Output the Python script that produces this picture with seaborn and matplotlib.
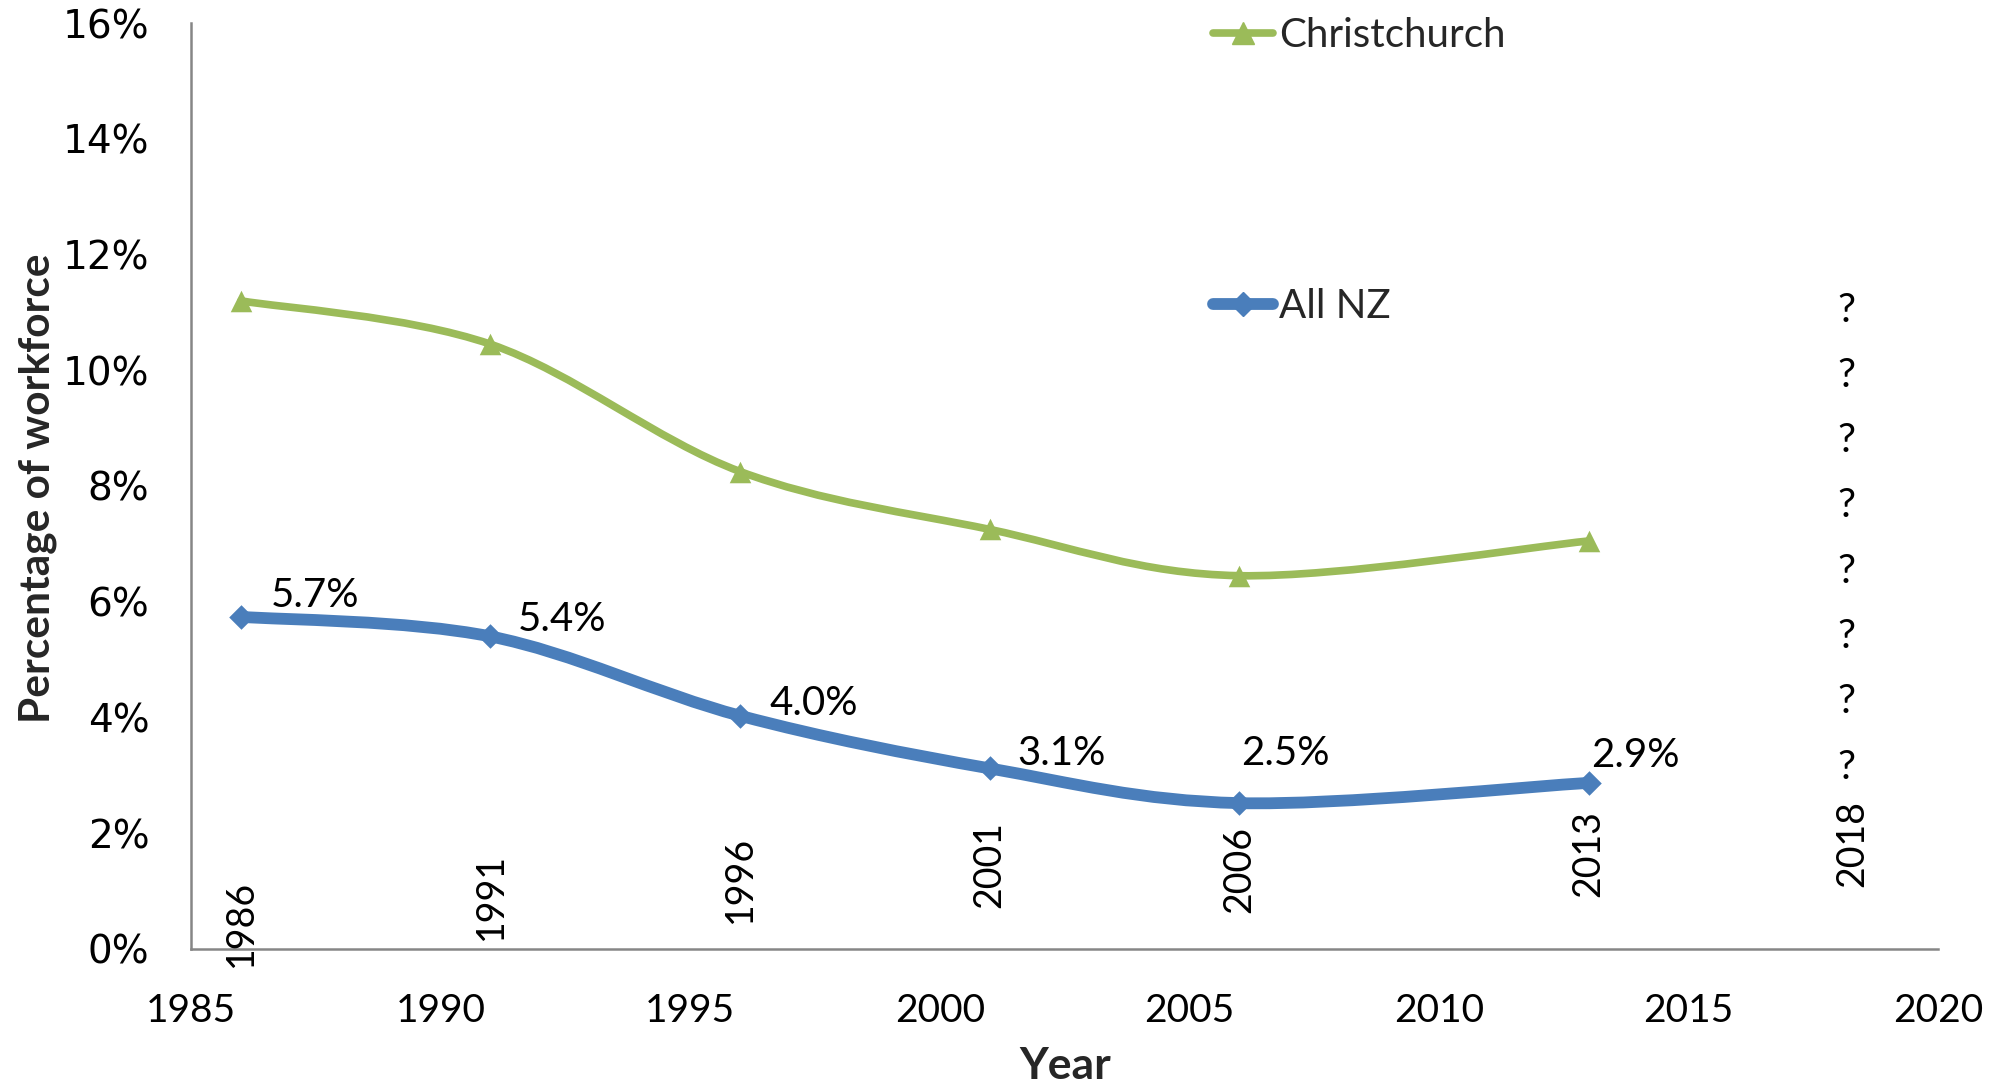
import numpy as np
import pandas as pd
import matplotlib
matplotlib.use('Agg')
import matplotlib.pyplot as plt
import seaborn as sns
from matplotlib.path import Path
from matplotlib.patches import PathPatch
from matplotlib.lines import Line2D
import matplotlib.ticker as ticker

# Data (percentage of workforce)
years = [1986, 1991, 1996, 2001, 2006, 2013]
christchurch = [11.2, 10.45, 8.25, 7.25, 6.45, 7.05]
all_nz = [5.74, 5.40, 4.03, 3.12, 2.52, 2.87]
all_nz_labels = ['5.7%', '5.4%', '4.0%', '3.1%', '2.5%', '2.9%']

# Census year labels (hidden series values)
census_years = ['1986', '1991', '1996', '2001', '2006', '2013', '2018']
census_x = [1986, 1991, 1996, 2001, 2006, 2013, 2018]
census_label_y = [-0.31, 0.16, 0.45, 0.71, 0.62, 0.90, 1.07]
unknown_marks = ['?'] * 8

GREEN = '#9bbb59'
BLUE = '#4a7ebb'
AXIS = '#868686'

sns.set_style('white')
plt.rcParams['font.family'] = ['Lato', 'DejaVu Sans']


def smooth_path(x, y):
    # bezier curve through the points (like Excel's smoothed line)
    pts = np.column_stack([x, y]).astype(float)
    n = len(pts)
    verts = [pts[0]]
    codes = [Path.MOVETO]
    for i in range(n - 1):
        p0 = pts[max(i - 1, 0)]
        p1 = pts[i]
        p2 = pts[i + 1]
        p3 = pts[min(i + 2, n - 1)]
        verts += [p1 + (p2 - p0) / 6, p2 - (p3 - p1) / 6, p2]
        codes += [Path.CURVE4] * 3
    return Path(verts, codes)


df = pd.DataFrame({'year': years, 'Christchurch': christchurch, 'All NZ': all_nz})

fig, ax = plt.subplots(figsize=(20, 10.91), dpi=100)
fig.subplots_adjust(left=0.0955, right=0.969, bottom=0.1302, top=0.9789)

# Lines
ax.add_patch(PathPatch(smooth_path(df['year'], df['Christchurch']), fill=False,
                       edgecolor=GREEN, lw=5.5, capstyle='round', zorder=2))
ax.add_patch(PathPatch(smooth_path(df['year'], df['All NZ']), fill=False,
                       edgecolor=BLUE, lw=8.5, capstyle='round', zorder=2))

# Markers
sns.scatterplot(x='year', y='Christchurch', data=df, ax=ax, marker='^', s=15.5 ** 2,
                color=GREEN, edgecolor=GREEN, linewidth=0, zorder=3)
sns.scatterplot(x='year', y='All NZ', data=df, ax=ax, marker='D', s=12.5 ** 2,
                color=BLUE, edgecolor=BLUE, linewidth=0, zorder=3)

# Data labels for All NZ
label_offsets = [(30, 10), (27, 5), (29, 1), (28, 3), (2, 38), (3, 16)]
for x, y, lab, off in zip(years, all_nz, all_nz_labels, label_offsets):
    ax.annotate(lab, (x, y), xytext=off, textcoords='offset pixels',
                ha='left', va='baseline', fontsize=29, color='black')

# Rotated census year labels
census_dx = [0, 0, 0, 0, 0, 0, 14]
for x, y, lab, dx in zip(census_x, census_label_y, census_years, census_dx):
    ax.annotate(lab, (x, y), xytext=(dx, 0), textcoords='offset pixels',
                rotation=90, ha='center', va='bottom', fontsize=27,
                color='black', annotation_clip=False)

# Question marks for 2018
ax.annotate('\n'.join(unknown_marks), (2018, 11.36), xytext=(8, 0),
            textcoords='offset pixels', ha='center', va='top',
            fontsize=29, linespacing=1.943, color='black')

# Axes
ax.set_xlim(1985, 2020)
ax.set_ylim(0, 16)
ax.xaxis.set_major_locator(ticker.MultipleLocator(5))
ax.yaxis.set_major_locator(ticker.MultipleLocator(2))
ax.yaxis.set_major_formatter(ticker.FuncFormatter(lambda v, p: '{:.0f}%'.format(v)))
sns.despine(ax=ax)
for side in ['left', 'bottom']:
    ax.spines[side].set_color(AXIS)
    ax.spines[side].set_linewidth(1.8)
ax.tick_params(axis='both', which='major', direction='out', length=11, width=1.8,
               color=AXIS, labelcolor='black')
ax.tick_params(axis='x', pad=21, labelsize=28)
ax.tick_params(axis='y', pad=19, labelsize=28)
for t in ax.get_yticklabels():
    t.set_fontfamily('DejaVu Sans')

ax.set_xlabel('Year', fontsize=32, fontweight='bold')
ax.set_ylabel('Percentage of workforce', fontsize=30.5, fontweight='bold')
ax.xaxis.set_label_coords(0.5003, -0.126)
ax.yaxis.set_label_coords(-0.0875, 0.498)
ax.xaxis.label.set_va('center')
ax.yaxis.label.set_va('center')

# Legend
handles = [Line2D([], [], color=GREEN, lw=5.5, marker='^', markersize=15.5),
           Line2D([], [], color=BLUE, lw=8.5, marker='D', markersize=12.5)]
ax.legend(handles, ['Christchurch', 'All NZ'], loc='upper left',
          bbox_to_anchor=(1213 / 2000, 1 - 17 / 1091), bbox_transform=fig.transFigure,
          frameon=False, fontsize=29, handlelength=1.49, handletextpad=0.15,
          labelspacing=5.8, borderpad=0, borderaxespad=0)

fig.savefig('out.png', dpi=100)
